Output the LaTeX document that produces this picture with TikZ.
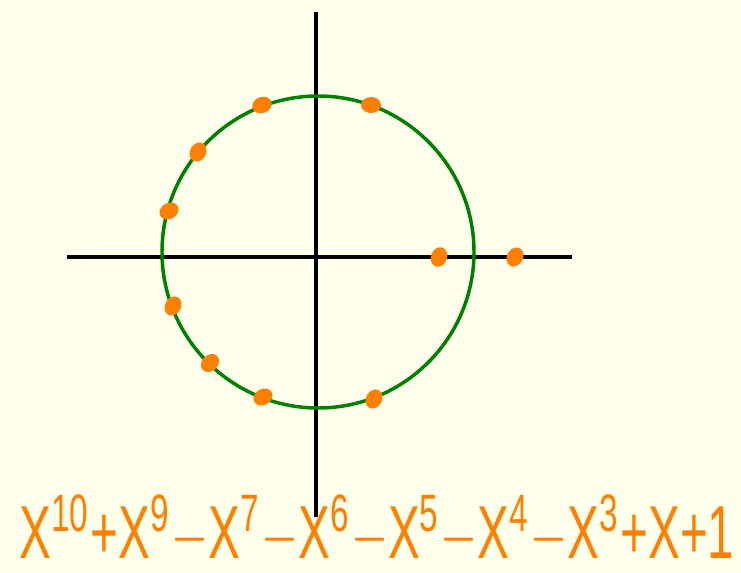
\documentclass[tikz,border=0pt]{standalone}
\usepackage{fontspec}
\setmainfont{Liberation Sans}
\definecolor{paper}{HTML}{FFFFEB}
\definecolor{rootorange}{HTML}{FF8000}
\definecolor{circgreen}{HTML}{008000}
\usetikzlibrary{positioning}

\begin{document}
\begin{tikzpicture}[x=0.75pt, y=-0.75pt,
    axis/.style={draw=black, line width=2.6pt},
    unitcirc/.style={draw=circgreen, line width=2.6pt},
    root/.style={fill=rootorange, draw=none},
    poly/.style={text=rootorange, inner sep=0pt, anchor=south}
  ]
    % background
    \fill[paper] (0,0) rectangle (741,573);
    \useasboundingbox (0,0) rectangle (741,573);

    % axes
    \coordinate (xl) at (67,257);
    \coordinate (xr) at (572,257);
    \coordinate (yt) at (316,12);
    \coordinate (yb) at (316,517);
    \draw[axis] (xl) -- (xr);
    \draw[axis] (yt) -- (yb);

    % unit circle
    \coordinate (o) at (318,252);
    \draw[unitcirc] (o) circle[radius=156];

    % roots
    \foreach \px/\py/\rot in {262/105/20, 371/105/0, 198/152/60, 169/211/30,
                              439/257/70, 515/257/60, 173/306/60, 210/363/45,
                              263/397/30, 374/399/60}
      \fill[root, rotate around={\rot:(\px,\py)}] (\px,\py) ellipse[x radius=10, y radius=8];

    % polynomial
    \node[poly] (lehmer) at (377,565)
      {\resizebox{536pt}{48pt}{X\textsuperscript{10}+X\textsuperscript{9}$-$X\textsuperscript{7}$-$X\textsuperscript{6}$-$X\textsuperscript{5}$-$X\textsuperscript{4}$-$X\textsuperscript{3}+X+1}};
  \end{tikzpicture}
\end{document}
